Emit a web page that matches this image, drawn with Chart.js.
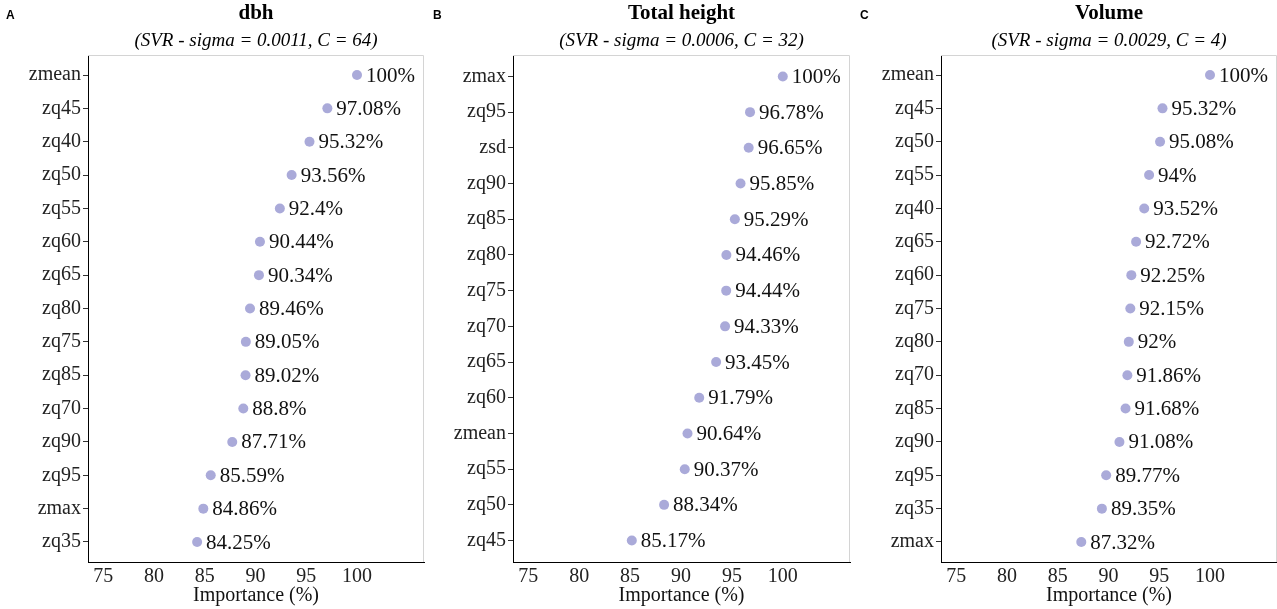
<!DOCTYPE html>
<html>
<head>
<meta charset="utf-8">
<script src="https://cdn.jsdelivr.net/npm/chart.js@4.4.0/dist/chart.umd.min.js"></script>
<style>
  body { margin: 0; background: #fff; }
  #wrap { position: relative; width: 1277px; height: 609px; overflow: hidden; }
  canvas { position: absolute; top: 0; }
</style>
</head>
<body>
<div id="wrap">
  <canvas id="chartA" width="426" height="609" style="left:0"></canvas>
  <canvas id="chartB" width="422" height="609" style="left:430px"></canvas>
  <canvas id="chartC" width="421" height="609" style="left:856px"></canvas>
</div>
<script>
// dbh
const dbhLabels = ['zmean', 'zq45', 'zq40', 'zq50', 'zq55', 'zq60', 'zq65', 'zq80', 'zq75', 'zq85', 'zq70', 'zq90', 'zq95', 'zmax', 'zq35'];
const dbhValues = [100, 97.08, 95.32, 93.56, 92.4, 90.44, 90.34, 89.46, 89.05, 89.02, 88.8, 87.71, 85.59, 84.86, 84.25];

// Total height
const heightLabels = ['zmax', 'zq95', 'zsd', 'zq90', 'zq85', 'zq80', 'zq75', 'zq70', 'zq65', 'zq60', 'zmean', 'zq55', 'zq50', 'zq45'];
const heightValues = [100, 96.78, 96.65, 95.85, 95.29, 94.46, 94.44, 94.33, 93.45, 91.79, 90.64, 90.37, 88.34, 85.17];

// Volume
const volumeLabels = ['zmean', 'zq45', 'zq50', 'zq55', 'zq40', 'zq65', 'zq60', 'zq75', 'zq80', 'zq70', 'zq85', 'zq90', 'zq95', 'zq35', 'zmax'];
const volumeValues = [100, 95.32, 95.08, 94, 93.52, 92.72, 92.25, 92.15, 92, 91.86, 91.68, 91.08, 89.77, 89.35, 87.32];

const xTicks = [75, 80, 85, 90, 95, 100];

const SERIF = '"Liberation Serif", "Times New Roman", serif';
const tickFont = { family: SERIF, size: 20 };

// titres, lettre du panneau, cadre gris et étiquettes de valeurs
const panelText = {
    id: 'panelText',
    afterDraw(chart, args, opts) {
        const { ctx, chartArea: a } = chart;
        const cx = (a.left + a.right) / 2;
        ctx.save();
        ctx.textBaseline = 'middle';

        ctx.fillStyle = '#000';
        ctx.font = 'bold 12px "Liberation Sans", Arial, sans-serif';
        ctx.textAlign = 'left';
        ctx.fillText(opts.letter, opts.letterX, 16);

        ctx.textAlign = 'center';
        ctx.font = 'bold 21px ' + SERIF;
        ctx.fillText(opts.title, cx, 14);
        ctx.font = 'italic 19px ' + SERIF;
        ctx.fillText(opts.subtitle, cx, 41);

        // cadre haut / droite
        ctx.strokeStyle = '#d4d4d4';
        ctx.lineWidth = 1;
        ctx.beginPath();
        ctx.moveTo(a.left, a.top + 0.5);
        ctx.lineTo(a.right - 0.5, a.top + 0.5);
        ctx.lineTo(a.right - 0.5, a.bottom);
        ctx.stroke();

        // étiquettes des points
        const meta = chart.getDatasetMeta(0);
        const values = chart.data.datasets[0].data;
        ctx.textAlign = 'left';
        ctx.font = '21px ' + SERIF;
        ctx.fillStyle = '#111';
        meta.data.forEach((pt, i) => {
            ctx.fillText(values[i].x + '%', pt.x + 9, pt.y + 1);
        });
        ctx.restore();
    }
};

function makeChart(id, letter, letterX, title, subtitle, labels, values, yWidth, padRight) {
    return new Chart(document.getElementById(id), {
        type: 'scatter',
        data: {
            datasets: [{
                data: values.map((v, i) => ({ x: v, y: i })),
                pointRadius: 5,
                pointBorderWidth: 0,
                pointBackgroundColor: '#aaaad9',
                pointBorderColor: '#aaaad9'
            }]
        },
        options: {
            responsive: false,
            animation: false,
            events: [],
            layout: { autoPadding: false, padding: { top: 55, right: padRight, left: 0, bottom: 0 } },
            plugins: {
                legend: { display: false },
                tooltip: { enabled: false },
                panelText: { letter, letterX, title, subtitle }
            },
            scales: {
                x: {
                    type: 'linear',
                    min: 73.5,
                    max: 106.6,
                    afterBuildTicks: s => { s.ticks = xTicks.map(v => ({ value: v })); },
                    grid: { display: false, drawTicks: false, tickLength: 0 },
                    border: { display: true, color: '#000', width: 1 },
                    ticks: { font: tickFont, color: '#222', padding: 3 },
                    title: {
                        display: true,
                        text: 'Importance (%)',
                        font: tickFont,
                        color: '#111',
                        padding: { top: 0, bottom: 1 }
                    },
                    afterFit: s => { s.height = 47; }
                },
                y: {
                    type: 'linear',
                    reverse: true,
                    // même marge que ggplot pour un axe discret (0.6)
                    min: -0.6,
                    max: labels.length - 0.4,
                    afterBuildTicks: s => { s.ticks = labels.map((_, i) => ({ value: i })); },
                    grid: { display: true, drawOnChartArea: false, drawTicks: true, tickLength: 5, color: '#333' },
                    border: { display: true, color: '#000', width: 1 },
                    ticks: { font: tickFont, color: '#222', padding: 2, callback: v => labels[v] },
                    afterFit: s => { s.width = yWidth; }
                }
            }
        },
        plugins: [panelText]
    });
}

makeChart('chartA', 'A', 6, 'dbh', '(SVR - sigma = 0.0011, C = 64)', dbhLabels, dbhValues, 88, 2);
makeChart('chartB', 'B', 3, 'Total height', '(SVR - sigma = 0.0006, C = 32)', heightLabels, heightValues, 83, 2);
makeChart('chartC', 'C', 4, 'Volume', '(SVR - sigma = 0.0029, C = 4)', volumeLabels, volumeValues, 85, 0);
</script>
</body>
</html>
